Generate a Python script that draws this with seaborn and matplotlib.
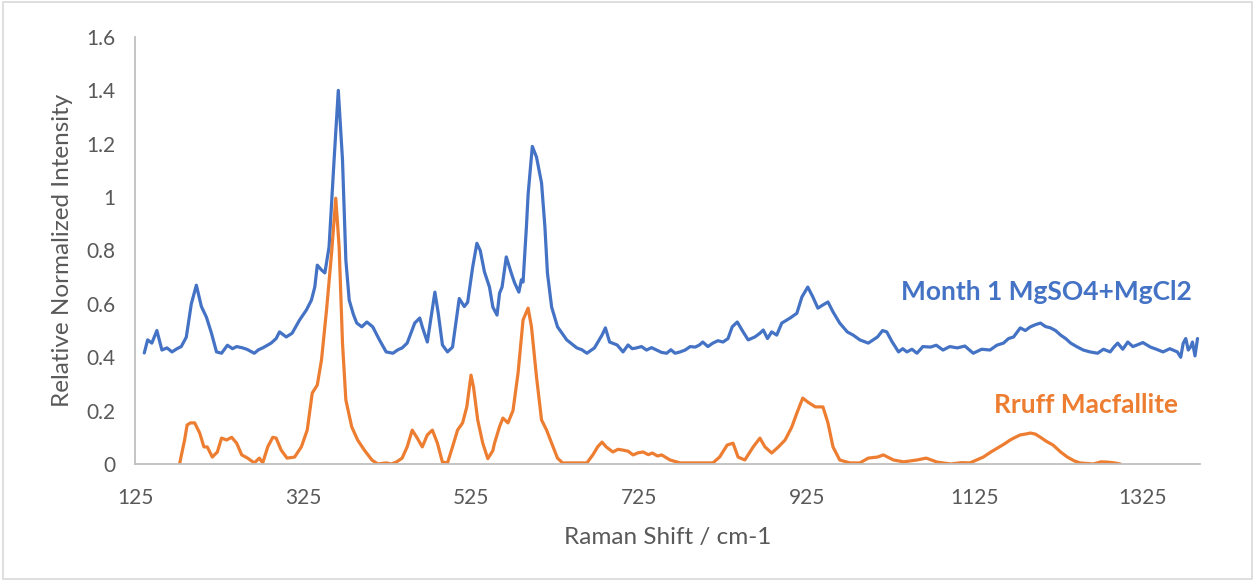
import matplotlib
matplotlib.use("Agg")
import matplotlib.pyplot as plt
import seaborn as sns
import pandas as pd
from matplotlib.patches import Rectangle

# ---- data (rows of 10 values) ----
blue_x = [136, 140, 145, 151, 157, 163, 169, 175, 180, 186,
          192, 198, 204, 210, 216, 222, 228, 235, 241, 246,
          252, 258, 267, 272, 277, 287, 293, 297, 305, 312,
          321, 329, 335, 339, 342, 347, 351, 356, 362, 367,
          372, 376, 380, 385, 389, 395, 401, 408, 416, 424,
          432, 438, 443, 449, 458, 464, 467, 473, 482, 486,
          491, 497, 503, 511, 517, 521, 527, 532, 536, 541,
          547, 551, 556, 559, 562, 567, 573, 577, 582, 585,
          587, 591, 593, 598, 603, 609, 613, 616, 621, 628,
          639, 651, 657, 663, 672, 681, 685, 690, 699, 706,
          712, 717, 722, 728, 734, 740, 746, 752, 758, 763,
          768, 774, 780, 786, 792, 797, 801, 807, 813, 819,
          825, 831, 836, 842, 849, 855, 863, 869, 873, 878,
          883, 889, 895, 905, 913, 919, 926, 932, 938, 944,
          950, 956, 964, 973, 980, 988, 998, 1009, 1015, 1020,
          1026, 1034, 1039, 1044, 1050, 1056, 1063, 1072, 1079, 1087,
          1095, 1104, 1113, 1123, 1133, 1143, 1151, 1159, 1165, 1171,
          1179, 1185, 1191, 1197, 1203, 1209, 1215, 1221, 1227, 1233,
          1239, 1246, 1254, 1262, 1271, 1278, 1286, 1291, 1295, 1301,
          1307, 1313, 1318, 1325, 1334, 1341, 1349, 1357, 1366, 1370,
          1373, 1376, 1379, 1382, 1384, 1387, 1390]
blue_y = [0.416, 0.465, 0.453, 0.500, 0.427, 0.435, 0.420, 0.432, 0.440, 0.475,
          0.600, 0.670, 0.590, 0.550, 0.490, 0.420, 0.415, 0.445, 0.432, 0.440,
          0.436, 0.430, 0.415, 0.428, 0.435, 0.453, 0.470, 0.495, 0.476, 0.490,
          0.540, 0.577, 0.614, 0.663, 0.745, 0.727, 0.716, 0.813, 1.140, 1.400,
          1.140, 0.764, 0.614, 0.560, 0.528, 0.514, 0.532, 0.514, 0.465, 0.420,
          0.415, 0.428, 0.435, 0.453, 0.528, 0.547, 0.514, 0.457, 0.644, 0.565,
          0.446, 0.420, 0.438, 0.620, 0.590, 0.606, 0.738, 0.827, 0.800, 0.720,
          0.663, 0.588, 0.558, 0.640, 0.663, 0.776, 0.715, 0.678, 0.644, 0.690,
          0.682, 0.890, 1.010, 1.190, 1.150, 1.053, 0.888, 0.716, 0.588, 0.514,
          0.465, 0.435, 0.428, 0.415, 0.435, 0.483, 0.510, 0.457, 0.446, 0.420,
          0.446, 0.432, 0.435, 0.440, 0.427, 0.436, 0.427, 0.418, 0.415, 0.428,
          0.415, 0.420, 0.427, 0.440, 0.438, 0.446, 0.457, 0.440, 0.453, 0.462,
          0.457, 0.470, 0.514, 0.532, 0.495, 0.465, 0.476, 0.490, 0.502, 0.470,
          0.495, 0.483, 0.528, 0.547, 0.565, 0.626, 0.663, 0.626, 0.584, 0.596,
          0.607, 0.570, 0.528, 0.495, 0.483, 0.465, 0.453, 0.476, 0.500, 0.495,
          0.460, 0.420, 0.432, 0.420, 0.430, 0.415, 0.440, 0.438, 0.445, 0.427,
          0.440, 0.435, 0.442, 0.415, 0.430, 0.427, 0.445, 0.453, 0.470, 0.476,
          0.510, 0.500, 0.514, 0.522, 0.528, 0.515, 0.510, 0.500, 0.483, 0.470,
          0.453, 0.440, 0.427, 0.420, 0.415, 0.430, 0.420, 0.440, 0.453, 0.430,
          0.457, 0.440, 0.446, 0.455, 0.438, 0.430, 0.420, 0.432, 0.420, 0.400,
          0.453, 0.470, 0.427, 0.440, 0.457, 0.405, 0.470]

orange_x = [178, 184, 187, 191, 196, 202, 207, 211, 217, 223,
            228, 234, 240, 246, 252, 259, 267, 273, 277, 283,
            289, 293, 299, 306, 315, 323, 330, 336, 342, 347,
            353, 359, 364, 368, 372, 376, 383, 390, 398, 407,
            414, 424, 430, 436, 443, 449, 455, 461, 467, 473,
            479, 485, 491, 497, 503, 509, 515, 520, 525, 528,
            533, 539, 545, 551, 553, 559, 563, 569, 575, 581,
            587, 593, 597, 603, 609, 615, 621, 628, 634, 646,
            663, 670, 676, 681, 686, 694, 700, 706, 712, 718,
            724, 730, 736, 741, 747, 752, 762, 774, 794, 813,
            821, 830, 837, 843, 851, 861, 869, 875, 883, 891,
            899, 907, 913, 920, 926, 935, 944, 950, 956, 964,
            976, 988, 998, 1009, 1016, 1028, 1040, 1056, 1067, 1080,
            1096, 1109, 1119, 1127, 1135, 1144, 1152, 1160, 1167, 1173,
            1179, 1185, 1191, 1197, 1203, 1210, 1218, 1227, 1235, 1243,
            1250, 1266, 1275, 1283, 1291, 1298]
orange_y = [0.000, 0.090, 0.146, 0.154, 0.154, 0.116, 0.064, 0.064, 0.026, 0.045,
            0.097, 0.090, 0.100, 0.078, 0.034, 0.022, 0.004, 0.022, 0.004, 0.064,
            0.100, 0.097, 0.052, 0.022, 0.026, 0.064, 0.127, 0.266, 0.296, 0.390,
            0.577, 0.790, 0.996, 0.813, 0.453, 0.240, 0.139, 0.090, 0.052, 0.015,
            0.000, 0.004, 0.000, 0.007, 0.022, 0.064, 0.127, 0.097, 0.064, 0.109,
            0.127, 0.078, 0.007, 0.004, 0.064, 0.127, 0.154, 0.214, 0.333, 0.288,
            0.165, 0.078, 0.020, 0.050, 0.078, 0.140, 0.172, 0.154, 0.200, 0.340,
            0.540, 0.584, 0.514, 0.326, 0.165, 0.127, 0.078, 0.022, 0.004, 0.004,
            0.004, 0.034, 0.065, 0.082, 0.064, 0.045, 0.055, 0.052, 0.048, 0.034,
            0.042, 0.045, 0.035, 0.041, 0.030, 0.034, 0.015, 0.004, 0.004, 0.004,
            0.026, 0.071, 0.078, 0.026, 0.015, 0.064, 0.097, 0.064, 0.041, 0.064,
            0.090, 0.139, 0.191, 0.247, 0.232, 0.214, 0.214, 0.154, 0.064, 0.015,
            0.004, 0.004, 0.022, 0.026, 0.034, 0.015, 0.008, 0.015, 0.022, 0.007,
            0.000, 0.005, 0.004, 0.015, 0.026, 0.045, 0.060, 0.075, 0.090, 0.100,
            0.109, 0.112, 0.116, 0.112, 0.100, 0.085, 0.071, 0.045, 0.026, 0.012,
            0.004, 0.000, 0.008, 0.007, 0.004, 0.000]

blue_label = "Month 1 MgSO4+MgCl2"
orange_label = "Rruff Macfallite"
x_ticks = [125, 325, 525, 725, 925, 1125, 1325]
y_ticks = [0, 0.2, 0.4, 0.6, 0.8, 1.0, 1.2, 1.4, 1.6]
y_tick_labels = ["0", "0.2", "0.4", "0.6", "0.8", "1", "1.2", "1.4", "1.6"]

BLUE = "#4472C4"
ORANGE = "#ED7D31"
GRAY_TXT = "#595959"

sns.set_style("white")
plt.rcParams["font.family"] = ["Lato", "DejaVu Sans"]

fig = plt.figure(figsize=(12.55, 5.81), dpi=100)
ax = fig.add_axes([0.1076, 0.2014, 0.8486, 0.7349])

df_b = pd.DataFrame({"x": blue_x, "y": blue_y})
df_o = pd.DataFrame({"x": orange_x, "y": orange_y})
sns.lineplot(data=df_b, x="x", y="y", ax=ax, color=BLUE, lw=2.3, sort=False, estimator=None)
sns.lineplot(data=df_o, x="x", y="y", ax=ax, color=ORANGE, lw=2.3, sort=False, estimator=None)

ax.set_xlim(125, 1393)
ax.set_ylim(0, 1.6)
ax.set_xticks(x_ticks)
ax.set_xticklabels([str(v) for v in x_ticks])
ax.set_yticks(y_ticks)
ax.set_yticklabels(y_tick_labels)
ax.tick_params(axis="both", length=0, labelsize=15, colors=GRAY_TXT)
ax.tick_params(axis="x", pad=17)
ax.tick_params(axis="y", pad=14)

for s in ["top", "right"]:
    ax.spines[s].set_visible(False)
for s in ["left", "bottom"]:
    ax.spines[s].set_color("#BFBFBF")
    ax.spines[s].set_linewidth(1.3)

ax.set_xlabel("Raman Shift / cm-1", fontsize=17.5, color=GRAY_TXT, labelpad=14)
ax.set_ylabel("Relative Normalized Intensity", fontsize=17.5, color=GRAY_TXT, labelpad=10)

ax.text(1037, 0.645, blue_label, color=BLUE, fontsize=19, fontweight="bold",
        ha="left", va="center")
ax.text(1148, 0.221, orange_label, color=ORANGE, fontsize=19, fontweight="bold",
        ha="left", va="center")

fig.patches.append(Rectangle((0.002, 0.003), 0.996, 0.994, transform=fig.transFigure,
                             fill=False, edgecolor="#D9D9D9", lw=1.2))

fig.savefig("out.png", dpi=100)
